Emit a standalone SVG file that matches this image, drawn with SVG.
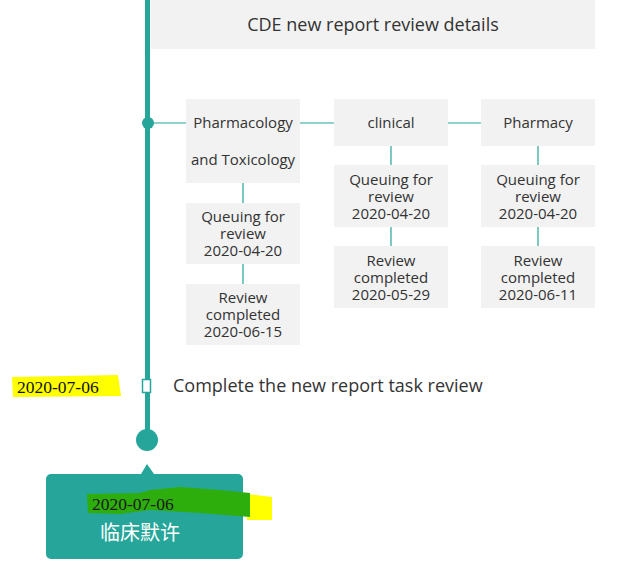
<svg xmlns="http://www.w3.org/2000/svg" width="641" height="569" viewBox="0 0 641 569">
<style>
.box{fill:#f2f2f2}
.t{font-family:"Open Sans","Noto Sans","Liberation Sans",sans-serif;fill:#333;text-anchor:middle}
.s{font-size:15px}
.c{stroke:#26a69a;stroke-width:1.2;fill:none}
</style>
<rect width="641" height="569" fill="#fff"/>
<g id="connectors">
<rect x="145" y="0" width="5" height="440" fill="#26a69a"/>
<line class="c" x1="148" y1="123" x2="186" y2="123"/>
<line class="c" x1="300" y1="123" x2="334" y2="123"/>
<line class="c" x1="448" y1="123" x2="481" y2="123"/>
<line class="c" x1="243" y1="183" x2="243" y2="203"/>
<line class="c" x1="243" y1="264" x2="243" y2="284"/>
<line class="c" x1="391" y1="146" x2="391" y2="165"/>
<line class="c" x1="391" y1="227" x2="391" y2="246"/>
<line class="c" x1="538" y1="146" x2="538" y2="165"/>
<line class="c" x1="538" y1="227" x2="538" y2="246"/>
</g>
<g id="header">
<rect class="box" x="151" y="0" width="444" height="49"/>
<text class="t" x="373" y="31" font-size="18">CDE new report review details</text>
</g>
<g id="dot1"><circle cx="148" cy="123" r="6" fill="#26a69a"/></g>
<g id="pharmtox">
<rect class="box" x="186" y="99" width="114" height="84"/>
<text class="t s" x="243" y="128">Pharmacology</text>
<text class="t s" x="243" y="165">and Toxicology</text>
</g>
<g id="clinical">
<rect class="box" x="334" y="99" width="114" height="47"/>
<text class="t s" x="391" y="128">clinical</text>
</g>
<g id="pharmacy">
<rect class="box" x="481" y="99" width="114" height="47"/>
<text class="t s" x="538" y="128">Pharmacy</text>
</g>
<g id="pt-queue">
<rect class="box" x="186" y="203" width="114" height="61"/>
<text class="t s" x="243" y="222">Queuing for</text>
<text class="t s" x="243" y="239">review</text>
<text class="t s" x="243" y="256">2020-04-20</text>
</g>
<g id="pt-done">
<rect class="box" x="186" y="284" width="114" height="61"/>
<text class="t s" x="243" y="303">Review</text>
<text class="t s" x="243" y="320">completed</text>
<text class="t s" x="243" y="337">2020-06-15</text>
</g>
<g id="cl-queue">
<rect class="box" x="334" y="165" width="114" height="62"/>
<text class="t s" x="391" y="185">Queuing for</text>
<text class="t s" x="391" y="202">review</text>
<text class="t s" x="391" y="219">2020-04-20</text>
</g>
<g id="cl-done">
<rect class="box" x="334" y="246" width="114" height="62"/>
<text class="t s" x="391" y="266">Review</text>
<text class="t s" x="391" y="283">completed</text>
<text class="t s" x="391" y="300">2020-05-29</text>
</g>
<g id="ph-queue">
<rect class="box" x="481" y="165" width="114" height="62"/>
<text class="t s" x="538" y="185">Queuing for</text>
<text class="t s" x="538" y="202">review</text>
<text class="t s" x="538" y="219">2020-04-20</text>
</g>
<g id="ph-done">
<rect class="box" x="481" y="246" width="114" height="62"/>
<text class="t s" x="538" y="266">Review</text>
<text class="t s" x="538" y="283">completed</text>
<text class="t s" x="538" y="300">2020-06-11</text>
</g>
<g id="task">
<path d="M12 377 L118 375 L121 396 L13 397 Z" fill="#ffff00"/>
<text x="17" y="393" font-family="Liberation Serif,serif" font-size="17.5" fill="#111">2020-07-06</text>
<rect x="142.5" y="379.5" width="8" height="13" fill="#fff" stroke="#26a69a" stroke-width="1.5"/>
<text x="173" y="392" font-family="Open Sans,Noto Sans,Liberation Sans,sans-serif" font-size="18" fill="#333">Complete the new report task review</text>
</g>
<g id="end"><circle cx="147" cy="440" r="11" fill="#26a69a"/></g>
<g id="tooltip">
<path d="M141 474 L147 464 L154 474 Z" fill="#26a69a"/>
<rect x="46" y="474" width="197" height="85" rx="5" fill="#26a69a"/>
<path d="M247 494 L272 497 L272 520 L247 520 Z" fill="#ffff00"/>
<path d="M87 494 L140 493 L150 490 L180 487 L220 490 L250 493 L250 517 L200 513 L150 510 L120 514 L88 513 Z" fill="#2eae0c"/>
<text x="92" y="510" font-family="Liberation Serif,serif" font-size="17.5" fill="#1a1a1a">2020-07-06</text>
<text x="140" y="540" text-anchor="middle" font-family="Noto Sans CJK SC,sans-serif" font-size="20" fill="#fff">临床默许</text>
</g>
</svg>
